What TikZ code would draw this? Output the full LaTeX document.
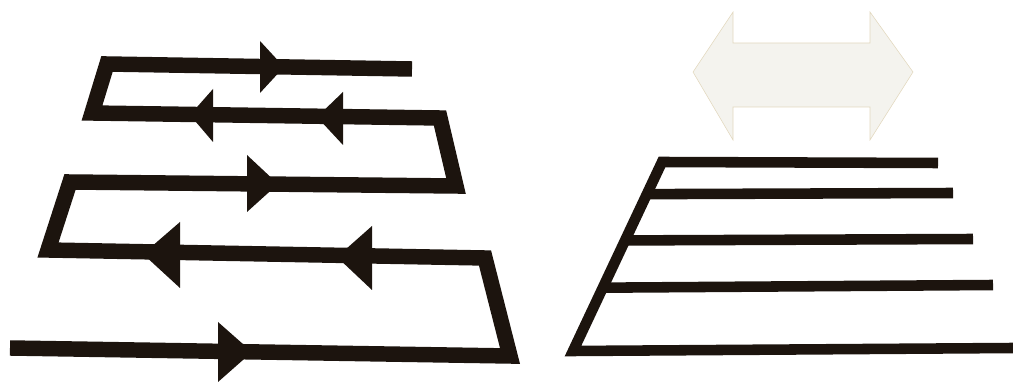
\documentclass[tikz,border=0pt]{standalone}
\usetikzlibrary{positioning,calc}
\definecolor{ink}{RGB}{28,20,14}
\definecolor{pale}{RGB}{244,243,238}
\definecolor{paleedge}{RGB}{226,216,190}
\tikzset{
  flow/.style={draw=ink, line width=11pt, line join=miter},
  rung/.style={draw=ink, line width=7.5pt},
  tri/.style={fill=ink},
}
\begin{document}
\begin{tikzpicture}[x=0.025cm, y=-0.025cm]
    \useasboundingbox (0,0) rectangle (1013,385);
    % winding path, corners from the bottom entry to the top exit
    \coordinate (in)  at (10,348);
    \coordinate (c1)  at (510,356);
    \coordinate (c2)  at (485,258);
    \coordinate (c3)  at (48,250);
    \coordinate (c4)  at (70,182);
    \coordinate (c5)  at (456,186);
    \coordinate (c6)  at (440,118);
    \coordinate (c7)  at (92,113);
    \coordinate (c8)  at (107,64);
    \coordinate (out) at (412,69);
    \draw[flow] (in) -- (c1) -- (c2) -- (c3) -- (c4) -- (c5) -- (c6) -- (c7) -- (c8) -- (out);
    % direction marks
    \fill[tri] (218,322) -- (252,352) -- (218,382) -- cycle;
    \fill[tri] (180,222) -- (143,254) -- (180,288) -- cycle;
    \fill[tri] (372,226) -- (337,257) -- (372,290) -- cycle;
    \fill[tri] (247,155) -- (278,184) -- (247,212) -- cycle;
    \fill[tri] (213,89) -- (190,115) -- (213,142) -- cycle;
    \fill[tri] (343,92) -- (317,117) -- (343,145) -- cycle;
    \fill[tri] (260,41) -- (284,67) -- (260,93) -- cycle;
    % parallel rungs
    \coordinate (r0) at (573,351);
    \coordinate (r1) at (662,162);
    \draw[rung, line join=miter] (1013,348) -- (r0) -- (r1) -- (938,163);
    \draw[rung] ($(r0)!0.83!(r1)$) -- (953,193);
    \draw[rung] ($(r0)!0.585!(r1)$) -- (973,239);
    \draw[rung] ($(r0)!0.335!(r1)$) -- (993,285);
    % pale double arrow
    \draw[fill=pale, draw=paleedge, line width=0.4pt]
        (693,72) -- (733,12) -- (733,43) -- (870,43) -- (870,12) -- (913,72)
        -- (870,140) -- (870,107) -- (733,107) -- (733,140) -- cycle;
\end{tikzpicture}
\end{document}
